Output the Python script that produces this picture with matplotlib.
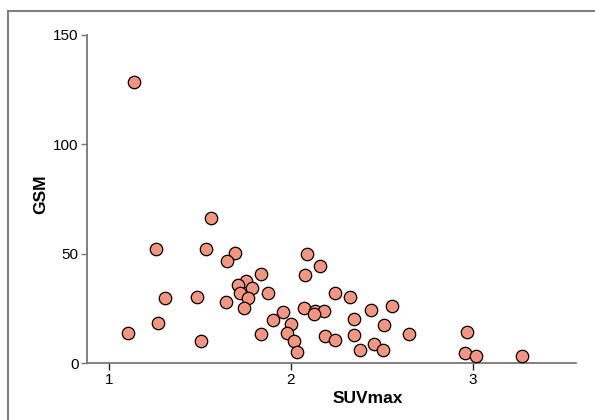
import matplotlib
matplotlib.use("Agg")
import matplotlib.pyplot as plt
from matplotlib.lines import Line2D

plt.rcParams["font.family"] = ["Liberation Sans", "DejaVu Sans"]

# SUVmax vs GSM
suvmax = [1.141, 1.564, 1.260, 1.536, 1.695, 1.652, 1.311, 1.487, 1.642, 1.273,
          1.106, 1.505, 2.089, 2.160, 2.078, 1.836, 1.754, 1.708, 1.785, 1.719,
          1.768, 1.877, 1.746, 2.243, 2.328, 2.440, 2.074, 2.136, 2.184, 2.127,
          1.960, 1.900, 2.004, 2.345, 1.836, 1.982, 2.017, 2.036, 2.191, 2.244,
          2.345, 2.378, 2.458, 2.559, 2.513, 2.652, 2.508, 2.970, 2.956, 3.018,
          3.271]
gsm = [128.5, 66.2, 52.2, 52.4, 50.5, 46.6, 30.0, 30.1, 28.0, 18.3,
       13.8, 10.0, 49.8, 44.6, 40.5, 40.9, 37.7, 35.9, 34.5, 32.0,
       29.7, 32.3, 25.3, 32.3, 30.3, 24.5, 25.4, 24.0, 23.9, 22.5,
       23.4, 19.6, 18.1, 20.1, 13.4, 13.7, 10.2, 5.0, 12.3, 10.5,
       13.1, 5.9, 9.0, 26.0, 17.6, 13.4, 6.1, 14.3, 4.6, 3.2,
       3.3]
xticks = [1, 2, 3]
yticks = [0, 50, 100, 150]

W, H = 595, 420
fig = plt.figure(figsize=(W / 100, H / 100), dpi=100)

# gray frame: only top and left edges show in the crop
fx, fy = 7.5 / W, 1 - 10.5 / H
fig.lines.append(Line2D([fx, 1.0], [fy, fy], transform=fig.transFigure,
                        color="#808080", linewidth=1.5))
fig.lines.append(Line2D([fx, fx], [0.0, fy], transform=fig.transFigure,
                        color="#808080", linewidth=1.5))

left, right, bottom, top = 87 / W, 576 / W, 1 - 363.3 / H, 1 - 35 / H
ax = fig.add_axes([left, bottom, right - left, top - bottom])

ax.scatter(suvmax, gsm, s=80, facecolor="#F4957F", edgecolor="black",
           linewidth=0.9, zorder=3, clip_on=False)

ax.set_xlim(0.881, 3.567)
ax.set_ylim(0, 150)
ax.set_xticks(xticks)
ax.set_yticks(yticks)

for side in ["top", "right"]:
    ax.spines[side].set_visible(False)
for side in ["left", "bottom"]:
    ax.spines[side].set_color("#777777")
    ax.spines[side].set_linewidth(1.3)

ax.tick_params(axis="x", direction="out", length=5, width=1, color="#222222",
               labelsize=11, pad=2)
ax.tick_params(axis="y", direction="out", length=4, width=1, color="#777777",
               labelsize=11, pad=2)

ax.set_xlabel("SUVmax", fontsize=12.5, fontweight="bold")
ax.set_ylabel("GSM", fontsize=12.5, fontweight="bold")
ax.xaxis.set_label_coords(0.574, -0.085)
ax.yaxis.set_label_coords(-0.080, 0.515)

fig.savefig("out.png", dpi=100)
